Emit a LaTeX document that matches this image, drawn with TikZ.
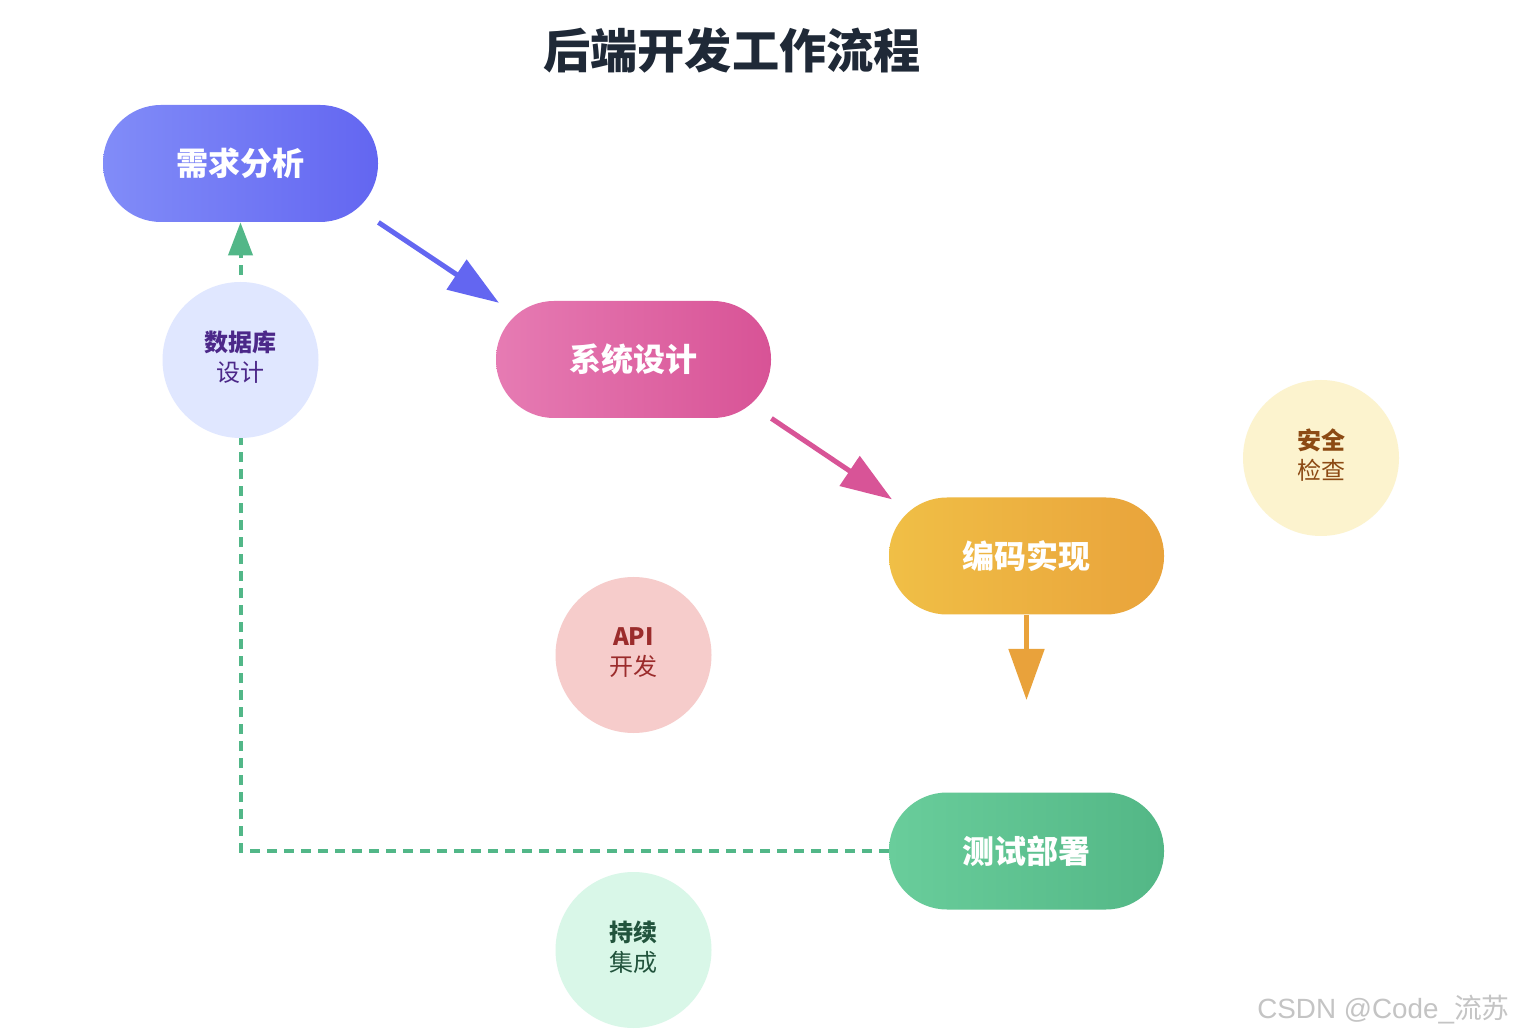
\documentclass[tikz,border=0pt]{standalone}
\usepackage{fontspec}
\setmainfont{Noto Sans CJK SC}
\newfontfamily\wmfont{Liberation Sans}
\usetikzlibrary{arrows.meta}
\definecolor{titlec}{HTML}{1F2937}
\definecolor{b1l}{HTML}{818CF8}\definecolor{b1r}{HTML}{6366F1}
\definecolor{b2l}{HTML}{E67BB3}\definecolor{b2r}{HTML}{D85396}
\definecolor{b3l}{HTML}{F0BF46}\definecolor{b3r}{HTML}{E9A33B}
\definecolor{b4l}{HTML}{69CD9B}\definecolor{b4r}{HTML}{53B786}
\definecolor{a1}{HTML}{6366F1}\definecolor{a2}{HTML}{D85497}
\definecolor{a3}{HTML}{E9A23B}\definecolor{a4}{HTML}{52B788}
\definecolor{c1f}{HTML}{E0E7FF}\definecolor{c1t}{HTML}{4C2889}
\definecolor{c2f}{HTML}{F6CCCB}\definecolor{c2t}{HTML}{9B2C2C}
\definecolor{c3f}{HTML}{FCF3CE}\definecolor{c3t}{HTML}{8C4A14}
\definecolor{c4f}{HTML}{D9F7E8}\definecolor{c4t}{HTML}{22543D}
\definecolor{wmc}{HTML}{C4C4C4}
\begin{document}
\begin{tikzpicture}[x=0.5pt,y=-0.5pt,
  stage/.style={rounded corners=29pt, minimum width=137.5pt, minimum height=58.5pt,
    inner sep=0pt, text=white, font=\fontsize{16}{19}\selectfont\bfseries},
  bubble/.style={circle, minimum size=78pt, inner sep=0pt, align=center,
    font=\fontsize{12}{15}\selectfont},
  bubbletext/.style={align=center, inner sep=0pt, font=\fontsize{12}{15}\selectfont, yshift=1.3pt},
  flow/.style={line width=2.5pt, shorten >=-2pt, -{Triangle[length=25.5pt,width=17.5pt]}},
  loopback/.style={line width=2pt, dash pattern=on 5pt off 3.5pt, a4,
    -{Triangle[length=16.5pt,width=12pt]}}
]
\useasboundingbox (0,0) rectangle (1514,1036);
\fill[white] (0,0) rectangle (1514,1036);

\node[font=\fontsize{23.6}{28}\selectfont\bfseries, text=titlec] (title) at (732,50) {后端开发工作流程};

\node[stage, left color=b1l, right color=b1r] (s1) at (240.5,163.5) {需求分析};
\node[stage, left color=b2l, right color=b2r] (s2) at (633.5,359.5) {系统设计};
\node[stage, left color=b3l, right color=b3r] (s3) at (1026.5,556) {编码实现};
\node[stage, left color=b4l, right color=b4r] (s4) at (1026.5,851) {测试部署};

\coordinate (s3end) at (1026.5,700);
\coordinate (corner) at (240.5,851);

\draw[flow, a1] (s1.south east) -- (s2.north west);
\draw[flow, a2] (s2.south east) -- (s3.north west);
\draw[flow, a3, shorten >=0pt] (s3.south) -- (s3end);
\draw[loopback] (s4.west) -- (corner) -- (s1.south);

\node[bubble, fill=c1f] (db) at (240.5,360) {};
\node[bubble, fill=c2f] (api) at (633.5,655) {};
\node[bubble, fill=c3f] (sec) at (1321,458) {};
\node[bubble, fill=c4f] (ci) at (633.5,950) {};
\node[bubbletext, text=c1t] (dbt) at (db) {\textbf{数据库}\\设计};
\node[bubbletext, text=c2t] (apit) at (api) {\textbf{API}\\开发};
\node[bubbletext, text=c3t] (sect) at (sec) {\textbf{安全}\\检查};
\node[bubbletext, text=c4t] (cit) at (ci) {\textbf{持续}\\集成};

\node[text=wmc, font=\fontsize{13.9}{17}\selectfont, anchor=east, inner sep=0pt] (wm) at (1510,1010) {{\wmfont CSDN @Code\_}流苏};
\end{tikzpicture}
\end{document}
